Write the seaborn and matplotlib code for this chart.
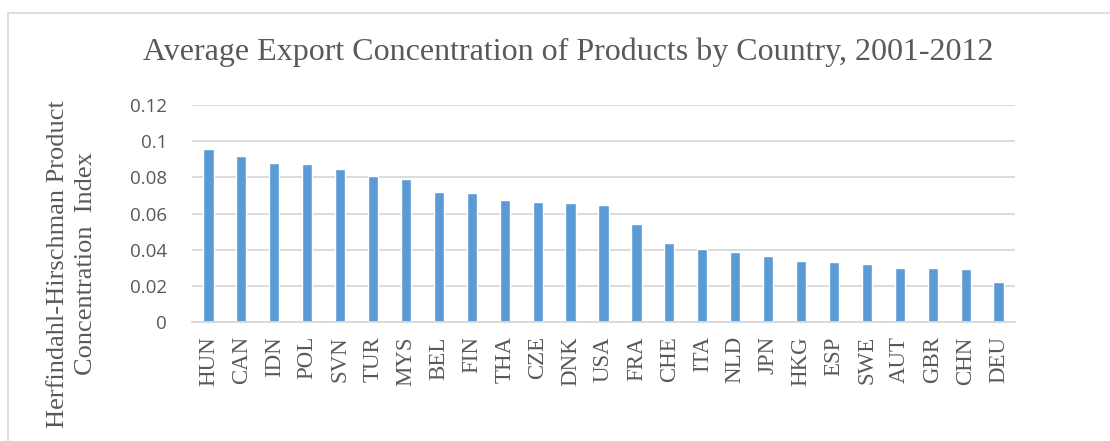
#!/usr/bin/env python3

import matplotlib
matplotlib.use("Agg")
import matplotlib.pyplot as plt
from matplotlib.lines import Line2D
import pandas as pd
import seaborn as sns

countries = ["HUN", "CAN", "IDN", "POL", "SVN", "TUR", "MYS", "BEL", "FIN",
             "THA", "CZE", "DNK", "USA", "FRA", "CHE", "ITA", "NLD", "JPN",
             "HKG", "ESP", "SWE", "AUT", "GBR", "CHN", "DEU"]
hhi = [0.0957, 0.0919, 0.0880, 0.0873, 0.0849, 0.0808, 0.0790, 0.0720, 0.0714,
       0.0674, 0.0665, 0.0661, 0.0648, 0.0545, 0.0436, 0.0407, 0.0389, 0.0368,
       0.0337, 0.0331, 0.0322, 0.0300, 0.0298, 0.0293, 0.0224]
yticks = [0, 0.02, 0.04, 0.06, 0.08, 0.1, 0.12]
ytick_labels = ["0", "0.02", "0.04", "0.06", "0.08", "0.1", "0.12"]

df = pd.DataFrame({"country": countries, "hhi": hhi})

sns.set_theme(style="white")
serif = ["Liberation Serif", "DejaVu Serif"]
sans = ["Open Sans", "DejaVu Sans"]
grey = "#595959"

W, H = 1110, 441
fig = plt.figure(figsize=(W / 100, H / 100), dpi=100)

# chart frame: only top and left edges show in the crop
frame = "#D9D9D9"
fig.lines.append(Line2D([8 / W, 1], [1 - 12.5 / H] * 2, transform=fig.transFigure,
                        color=frame, linewidth=1.2))
fig.lines.append(Line2D([8 / W] * 2, [0, 1 - 12.5 / H], transform=fig.transFigure,
                        color=frame, linewidth=1.2))

ax = fig.add_axes([192 / W, 1 - 322.3 / H, 823 / W, 217.3 / H])
sns.barplot(data=df, x="country", y="hhi", ax=ax, color="#5B9BD5",
            saturation=1, width=0.31, order=countries)

ax.set_ylim(0, 0.12)
ax.set_xlim(-0.5, len(countries) - 0.5)
ax.set_yticks(yticks)
ax.set_yticklabels(ytick_labels, fontfamily=sans, fontsize=13.5, color=grey)
ax.set_xticks(range(len(countries)))
ax.set_xticklabels(countries, rotation=90, fontfamily=serif, fontsize=16.5, color=grey)
ax.tick_params(axis="x", length=0, pad=10)
ax.tick_params(axis="y", length=0, pad=18)
ax.yaxis.grid(True, color="#D9D9D9", linewidth=1.3)
ax.set_axisbelow(True)
for side in ["top", "right", "left"]:
    ax.spines[side].set_visible(False)
ax.spines["bottom"].set_color("#D9D9D9")
ax.spines["bottom"].set_linewidth(1.3)

ax.set_xlabel("")
ax.set_ylabel("")
fig.text(72 / W, 1 - 264 / H, "Herfindahl-Hirschman Product\nConcentration  Index",
         rotation=90, ha="center", va="center", multialignment="center",
         fontfamily=serif, fontsize=19, color=grey, linespacing=1.3)
fig.text(568 / W, 1 - 52 / H,
         "Average Export Concentration of Products by Country, 2001-2012",
         ha="center", va="center", fontfamily=serif, fontsize=23, color=grey)

fig.savefig("out.png", dpi=100)
